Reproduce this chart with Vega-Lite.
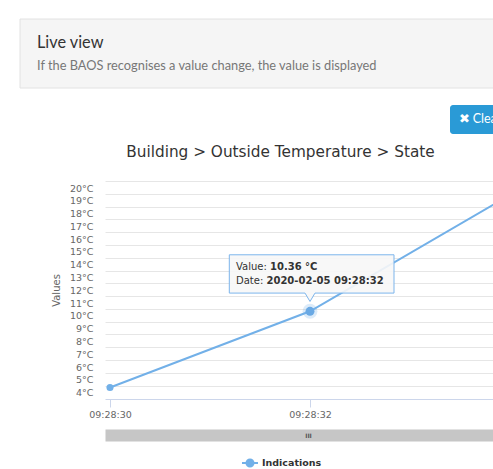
{
  "$schema": "https://vega.github.io/schema/vega-lite/v6.json",
  "width": 388,
  "height": 218,
  "autosize": {"type": "none"},
  "padding": {"left": 105, "top": 181, "right": 0, "bottom": 70},
  "background": "#ffffff",
  "config": {"view": {"stroke": null}},
  "title": {
    "text": "Live view",
    "subtitle": "If the BAOS recognises a value change, the value is displayed",
    "anchor": "start",
    "frame": "group",
    "dx": -68,
    "offset": -54,
    "zindex": 2,
    "font": "Lato",
    "fontSize": 16.3,
    "fontWeight": "normal",
    "color": "#333333",
    "subtitleFont": "Lato",
    "subtitleFontSize": 12.8,
    "subtitleColor": "#777777",
    "subtitlePadding": 9
  },
  "data": {
    "values": [
      {"time": "2020-02-05T09:28:30", "value": 4.4, "series": "Indications"},
      {"time": "2020-02-05T09:28:32", "value": 10.36, "series": "Indications"},
      {"time": "2020-02-05T09:28:34", "value": 19.45, "series": "Indications"}
    ]
  },
  "encoding": {
    "y": {
      "field": "value",
      "type": "quantitative",
      "scale": {"domain": [3.5, 20.55], "nice": false, "zero": false},
      "axis": {
        "values": [4, 5, 6, 7, 8, 9, 10, 11, 12, 13, 14, 15, 16, 17, 18, 19, 20],
        "labelExpr": "datum.value + '°C'",
        "grid": true,
        "gridColor": "#e6e6e6",
        "ticks": false,
        "domain": false,
        "tickOffset": -7,
        "labelOffset": 7,
        "labelFont": "DejaVu Sans",
        "labelFontSize": 9.5,
        "labelColor": "#666666",
        "labelPadding": 12,
        "title": "Values",
        "titleFont": "DejaVu Sans",
        "titleFontSize": 10,
        "titleFontWeight": "normal",
        "titleColor": "#666666",
        "titlePadding": 8
      }
    }
  },
  "layer": [
    {
      "mark": {"type": "line", "clip": true, "strokeWidth": 2},
      "encoding": {
        "x": {
          "field": "time",
          "type": "temporal",
          "scale": {
            "domain": [
              {"year": 2020, "month": 2, "date": 5, "hours": 9, "minutes": 28, "seconds": 29, "milliseconds": 950},
              {"year": 2020, "month": 2, "date": 5, "hours": 9, "minutes": 28, "seconds": 33, "milliseconds": 830}
            ],
            "nice": false
          },
          "axis": {
            "orient": "bottom",
            "values": [
              {"year": 2020, "month": 2, "date": 5, "hours": 9, "minutes": 28, "seconds": 30},
              {"year": 2020, "month": 2, "date": 5, "hours": 9, "minutes": 28, "seconds": 32}
            ],
            "format": "%H:%M:%S",
            "grid": false,
            "title": null,
            "labelFont": "DejaVu Sans",
            "labelFontSize": 9.5,
            "labelColor": "#666666",
            "labelPadding": 2,
            "tickSize": 8,
            "tickColor": "#ccd6eb",
            "domainColor": "#ccd6eb"
          }
        },
        "color": {
          "field": "series",
          "type": "nominal",
          "scale": {"domain": ["Indications"], "range": ["#72b0e8"]},
          "legend": {
            "orient": "none",
            "legendX": 136,
            "legendY": 273,
            "title": null,
            "labelFont": "DejaVu Sans",
            "labelFontWeight": "bold",
            "labelFontSize": 9.5,
            "labelColor": "#333333",
            "symbolType": "M-1,0L1,0M0.44,0A0.44,0.44,0,1,1,-0.44,0A0.44,0.44,0,1,1,0.44,0Z",
            "symbolSize": 256,
            "symbolStrokeWidth": 2,
            "symbolFillColor": "#72b0e8",
            "labelOffset": 3
          }
        }
      }
    },
    {
      "mark": {"type": "point", "filled": true, "size": 50, "opacity": 1, "color": "#72b0e8", "clip": true},
      "encoding": {"x": {"field": "time", "type": "temporal", "axis": null}}
    },
    {
      "transform": [{"filter": {"field": "value", "equal": 10.36}}],
      "mark": {"type": "point", "filled": true, "size": 220, "opacity": 0.25, "color": "#72b0e8"},
      "encoding": {
        "x": {
          "field": "time",
          "type": "temporal",
          "axis": {
            "orient": "top",
            "title": "Building > Outside Temperature > State",
            "labels": false,
            "ticks": false,
            "domain": false,
            "grid": false,
            "titleFont": "DejaVu Sans",
            "titleFontSize": 15.3,
            "titleFontWeight": "normal",
            "titleColor": "#333333",
            "titlePadding": 22,
            "titleX": 175
          }
        },
        "strokeDash": {
          "field": "series",
          "type": "nominal",
          "legend": {
            "orient": "none",
            "legendX": 345,
            "legendY": -76,
            "title": null,
            "fillColor": "#2a9ad6",
            "padding": 8,
            "cornerRadius": 3,
            "symbolSize": 0,
            "symbolOpacity": 0,
            "symbolStrokeWidth": 0,
            "labelOffset": -12,
            "labelExpr": "'✖ Clear'",
            "labelColor": "#ffffff",
            "labelFont": "Lato",
            "labelFontSize": 12.5,
            "labelFontWeight": "normal"
          }
        }
      }
    },
    {
      "transform": [{"filter": {"field": "value", "equal": 10.36}}],
      "mark": {"type": "point", "filled": true, "size": 80, "opacity": 1, "color": "#6aa9e4"},
      "encoding": {"x": {"field": "time", "type": "temporal", "axis": null}}
    },
    {
      "transform": [{"filter": {"field": "value", "equal": 10.36}}],
      "mark": {
        "type": "point",
        "shape": "M-0.807,-0.565L0.84,-0.565L0.84,-0.182L0.05,-0.182L0,-0.098L-0.05,-0.182L-0.807,-0.182Z",
        "size": 40000,
        "filled": true,
        "fill": "#f7f7f7",
        "fillOpacity": 0.9,
        "stroke": "#7cb5ec",
        "strokeWidth": 1,
        "opacity": 1
      },
      "encoding": {
        "x": {
          "field": "time",
          "type": "temporal",
          "axis": {
            "orient": "bottom",
            "offset": 36,
            "domainWidth": 12,
            "domainColor": "#c6c6c6",
            "labels": false,
            "ticks": false,
            "grid": false,
            "title": "III",
            "titleFont": "DejaVu Sans",
            "titleFontSize": 6,
            "titleFontWeight": "bold",
            "titleColor": "#555555",
            "titleBaseline": "middle",
            "titleY": 0,
            "titleX": 203
          }
        }
      }
    },
    {
      "transform": [{"filter": {"field": "value", "equal": 10.36}}],
      "mark": {"type": "text", "text": "Value:", "align": "left", "baseline": "middle", "dx": -74, "dy": -44.5, "font": "DejaVu Sans", "fontSize": 10, "color": "#333333", "strokeWidth": 0},
      "encoding": {
        "x": {"field": "time", "type": "temporal", "axis": null},
        "stroke": {
          "field": "value",
          "type": "quantitative",
          "scale": {"domain": [0, 30], "range": ["#f5f5f5", "#f5f5f5"]},
          "legend": {
            "orient": "none",
            "direction": "horizontal",
            "legendX": -85,
            "legendY": -162,
            "zindex": 0,
            "title": null,
            "padding": 0,
            "gradientLength": 480,
            "gradientThickness": 69,
            "gradientStrokeColor": "#e2e2e2",
            "gradientStrokeWidth": 1,
            "labelOpacity": 0,
            "labelFontSize": 1
          }
        }
      }
    },
    {
      "transform": [{"filter": {"field": "value", "equal": 10.36}}],
      "mark": {"type": "text", "text": "10.36 °C", "align": "left", "baseline": "middle", "dx": -40, "dy": -44.5, "font": "DejaVu Sans", "fontSize": 10, "fontWeight": "bold", "color": "#333333"},
      "encoding": {"x": {"field": "time", "type": "temporal", "axis": null}}
    },
    {
      "transform": [{"filter": {"field": "value", "equal": 10.36}}],
      "mark": {"type": "text", "text": "Date:", "align": "left", "baseline": "middle", "dx": -74, "dy": -30.5, "font": "DejaVu Sans", "fontSize": 10, "color": "#333333"},
      "encoding": {"x": {"field": "time", "type": "temporal", "axis": null}}
    },
    {
      "transform": [{"filter": {"field": "value", "equal": 10.36}}],
      "mark": {"type": "text", "text": "2020-02-05 09:28:32", "align": "left", "baseline": "middle", "dx": -43.5, "dy": -30.5, "font": "DejaVu Sans", "fontSize": 10, "fontWeight": "bold", "color": "#333333"},
      "encoding": {"x": {"field": "time", "type": "temporal", "axis": null}}
    }
  ],
  "resolve": {"axis": {"x": "independent"}}
}
